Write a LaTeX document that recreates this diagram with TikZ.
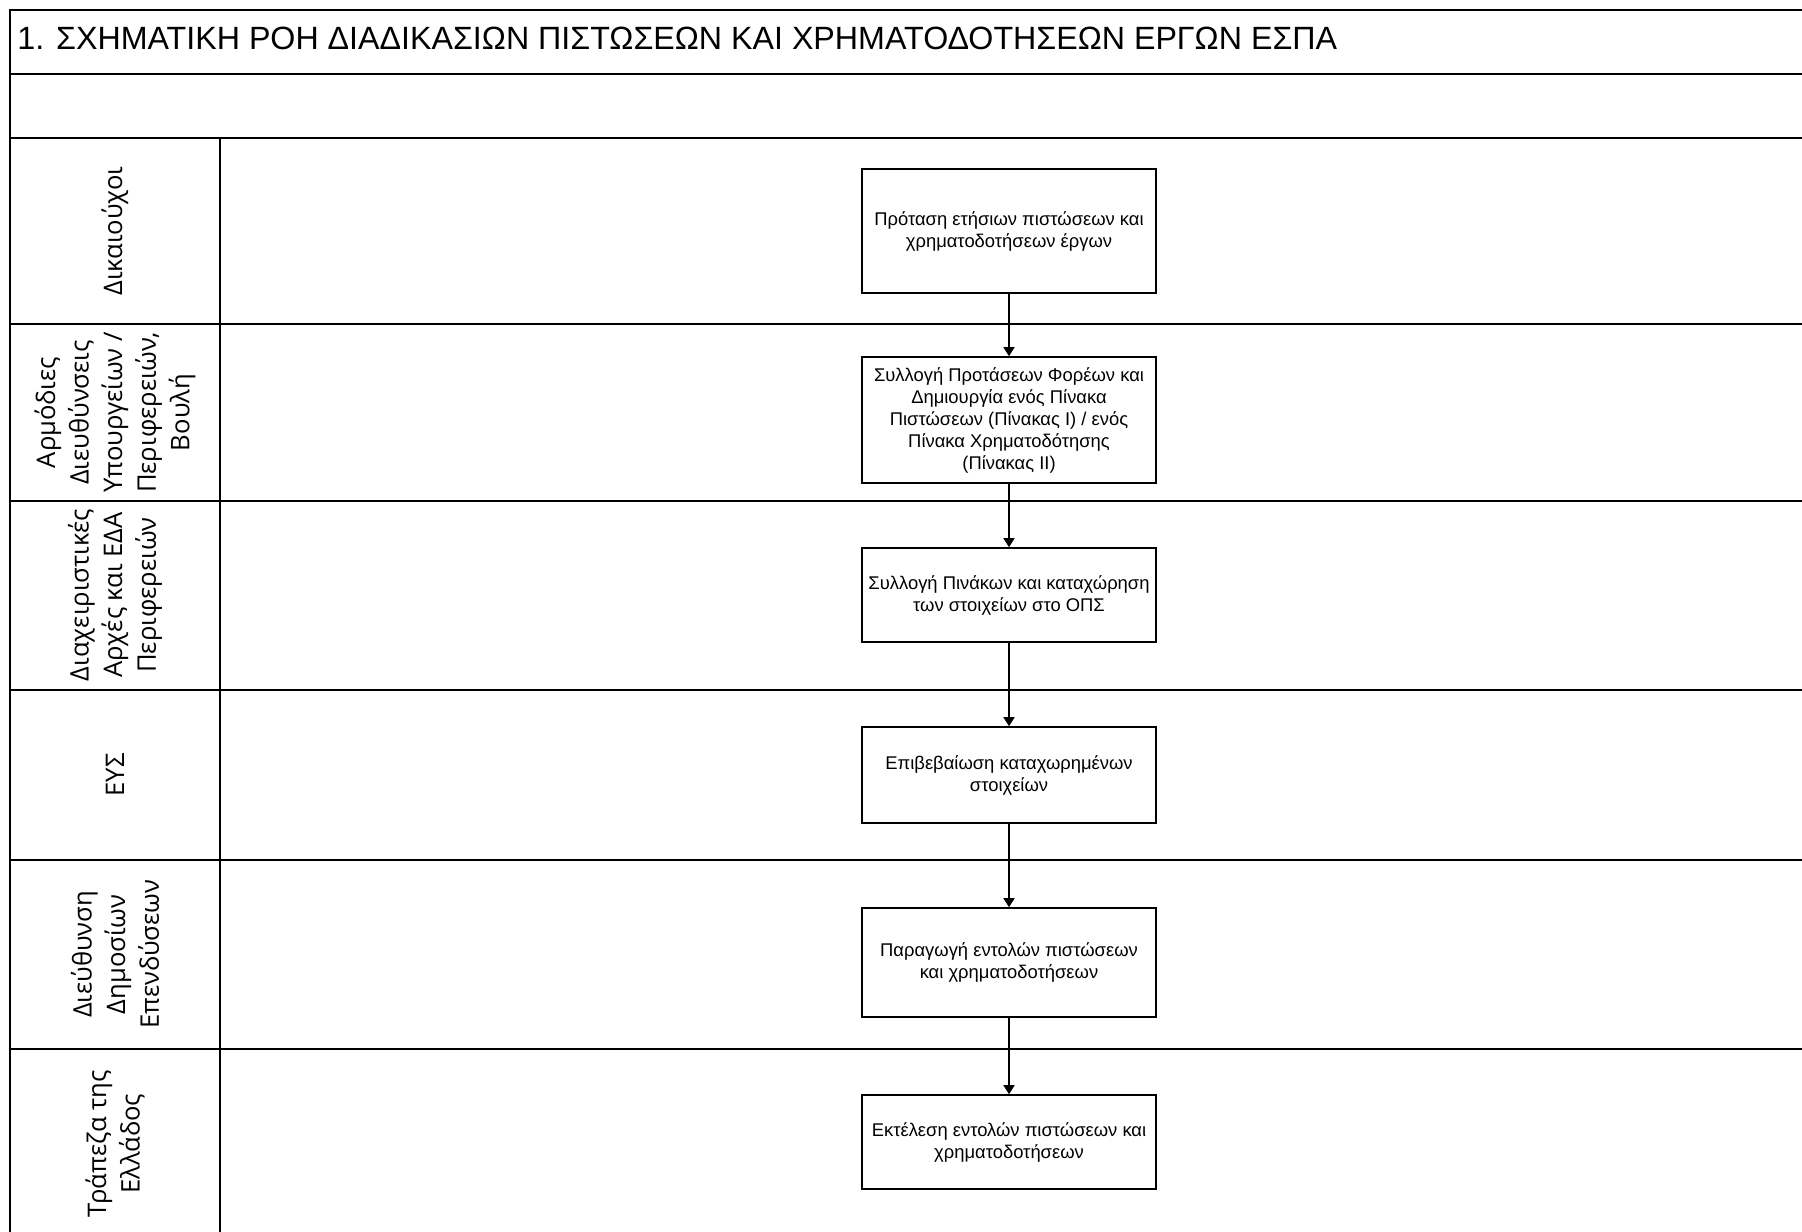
\documentclass[tikz,border=0pt]{standalone}
\usepackage{fontspec}
\setmainfont{Liberation Sans}
\newfontfamily\lanefont{Open Sans}
\usetikzlibrary{arrows.meta}

\begin{document}
\begin{tikzpicture}[x=0.5pt,y=-0.5pt]

%
% Styles
%
\tikzstyle{frame} = [draw=black,line width=1pt]
\tikzstyle{task} = [rectangle,draw=black,line width=0.8pt,fill=white,minimum width=147pt,inner sep=1pt,align=center,font=\fontsize{9.2}{11}\selectfont]
\tikzstyle{lanelabel} = [rotate=90,align=center,inner sep=0pt,font=\lanefont\fontsize{12.8}{16.8}\selectfont]
\tikzstyle{flow} = [draw=black,line width=0.8pt,-{Triangle[length=4.5pt,width=5.5pt]}]

\clip (0,0) rectangle (1802,1231);
\fill[white] (0,0) rectangle (1802,1231);

%
% Frame and lanes
%
\draw[frame] (1815,10) -- (10,10) -- (10,1245);
\draw[frame] (10,73.5) -- (1815,73.5);
\draw[frame] (10,138) -- (1815,138);
\draw[frame] (220,138) -- (220,1245);
\foreach \y in {324,501,689.5,859.6,1049}
  \draw[frame] (10,\y) -- (1815,\y);

\node[anchor=base west,inner sep=0pt,font=\fontsize{16.1}{19}\selectfont] (title) at (17,49.5)
  {1. ΣΧΗΜΑΤΙΚΗ ΡΟΗ ΔΙΑΔΙΚΑΣΙΩΝ ΠΙΣΤΩΣΕΩΝ ΚΑΙ ΧΡΗΜΑΤΟΔΟΤΗΣΕΩΝ ΕΡΓΩΝ ΕΣΠΑ};

\node[lanelabel] (benef) at (115,231)    {Δικαιούχοι};
\node[lanelabel] (minis) at (115,412.5)  {Αρμόδιες\\Διευθύνσεις\\Υπουργείων /\\Περιφερειών,\\Βουλή};
\node[lanelabel] (manag) at (115,595)    {Διαχειριστικές\\Αρχές και ΕΔΑ\\Περιφερειών};
\node[lanelabel] (eys)   at (115,774.8)  {ΕΥΣ};
\node[lanelabel] (ddep)  at (115,954.3)  {Διεύθυνση\\Δημοσίων\\Επενδύσεων};
\node[lanelabel] (bank)  at (115,1144)   {Τράπεζα της\\Ελλάδος};

%
% Tasks
%
\node[task,minimum height=62pt]   (propose) at (1009,231)   {Πρόταση ετήσιων πιστώσεων και\\χρηματοδοτήσεων έργων};
\node[task,minimum height=63pt]   (collect) at (1009,420)   {Συλλογή Προτάσεων Φορέων και\\Δημιουργία ενός Πίνακα\\Πιστώσεων (Πίνακας Ι) / ενός\\Πίνακα Χρηματοδότησης\\(Πίνακας ΙΙ)};
\node[task,minimum height=47pt]   (record)  at (1009,595)   {Συλλογή Πινάκων και καταχώρηση\\των στοιχείων στο ΟΠΣ};
\node[task,minimum height=48pt]   (confirm) at (1009,775)   {Επιβεβαίωση καταχωρημένων\\στοιχείων};
\node[task,minimum height=54.5pt] (orders)  at (1009,962.5) {Παραγωγή εντολών πιστώσεων\\και χρηματοδοτήσεων};
\node[task,minimum height=47pt]   (execute) at (1009,1142)  {Εκτέλεση εντολών πιστώσεων και\\χρηματοδοτήσεων};

\draw[flow] (propose) -- (collect);
\draw[flow] (collect) -- (record);
\draw[flow] (record)  -- (confirm);
\draw[flow] (confirm) -- (orders);
\draw[flow] (orders)  -- (execute);

\end{tikzpicture}
\end{document}
